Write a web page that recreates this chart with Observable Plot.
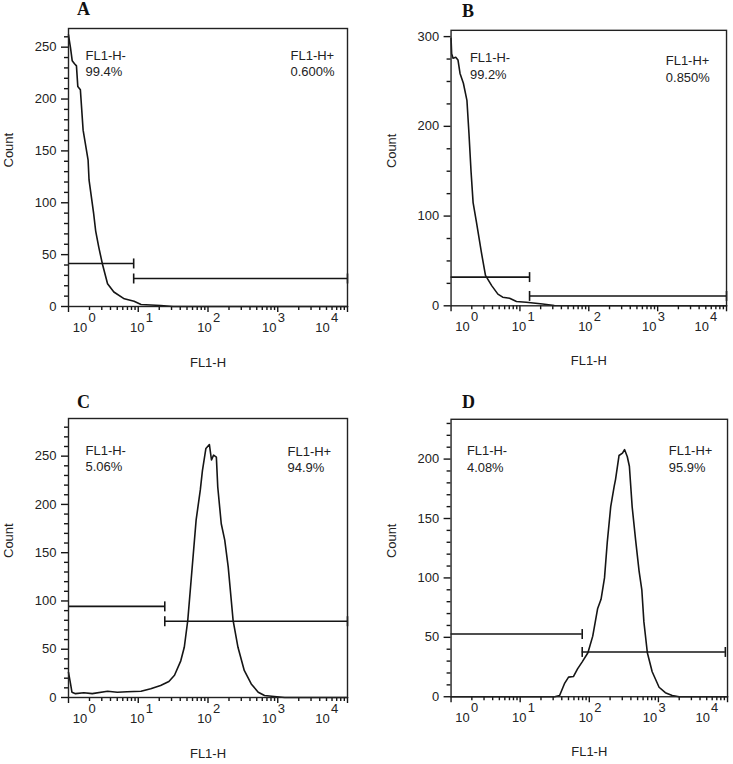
<!DOCTYPE html>
<html><head><meta charset="utf-8">
<script src="https://cdn.jsdelivr.net/npm/d3@7"></script>
<script src="https://cdn.jsdelivr.net/npm/@observablehq/plot@0.6"></script>
<style>
body{margin:0;background:#fff;}
#page{position:relative;width:733px;height:764px;overflow:hidden;background:#fff;}
.panel{position:absolute;}
.letter{position:absolute;font-family:"Liberation Serif","Times New Roman",serif;font-weight:bold;font-size:18px;line-height:18px;color:#111;}
</style></head>
<body><div id="page"></div>
<script>
// ---------- data ----------
const panelLetters = ["A", "B", "C", "D"];
const negLabel = "FL1-H-";
const posLabel = "FL1-H+";
const negPercent = ["99.4%", "99.2%", "5.06%", "4.08%"];
const posPercent = ["0.600%", "0.850%", "94.9%", "95.9%"];
const xLabel = "FL1-H";
const yLabel = "Count";
const xTickExponents = [0, 1, 2, 3, 4];
const xDomain = [1, 10000];
const yMax = [268, 307, 289, 233.5];
const yMajorStep = [50, 100, 50, 50];
const yMinorStep = [10, 25, 10, 10];

// gates (FL1-H split value, count level of the bars, right end)
const gateSplit = [8.6, 13.8, 24, 79];
const gateNegCount = [41.5, 32, 94.4, 52.8];
const gatePosCount = [27, 11, 79, 37.7];
const gateEnd = [10000, 10000, 10000, 9300];

// histograms
const fl1A = [1, 1.03, 1.07, 1.13, 1.22, 1.30, 1.36, 1.48, 1.62, 1.91, 1.97, 2.29, 2.45, 2.72, 3.05, 3.63, 4.47, 6.31, 8.71, 10.96, 20.9, 31.6, 10000];
const countA = [262, 256, 249, 237, 234, 232, 212, 209, 170, 141, 122, 90, 73, 57, 41.5, 22, 14, 7.4, 5, 2, 1, 0, 0];

const fl1B = [1, 1.02, 1.07, 1.17, 1.26, 1.35, 1.51, 1.70, 1.82, 1.95, 2.09, 2.34, 2.75, 3.16, 3.89, 4.79, 5.62, 7.08, 8.91, 12.3, 21.4, 31.6, 10000];
const countB = [298, 281, 276, 277, 274, 259, 248, 229, 192, 150, 115, 93, 60, 34, 22.5, 13, 9.6, 8.5, 4.8, 4, 2, 0.4, 0];

const fl1C = [1, 1.07, 1.12, 1.26, 1.66, 2.19, 3.63, 5.01, 6.92, 10.96, 15.1, 20.9, 27.5, 33.1, 40.7, 45.7, 51.3, 57.5, 67.6, 77.6, 83.2, 93.3, 104.7, 112.2, 120.2, 131.8, 138.0, 154.9, 173.8, 195.0, 229, 269, 331, 417, 525, 646, 891, 1259, 10000];
const countC = [26, 14, 5.5, 4, 5, 4, 6.5, 5.5, 6, 6.5, 9, 12.5, 16.6, 23, 38, 52, 80, 123, 184, 215, 235, 258, 262, 246, 251, 249, 218, 180, 163, 135, 80, 52, 28, 14, 5.5, 2, 1, 0, 0];

const fl1D = [1, 31.6, 37.2, 43.7, 50.1, 58.9, 67.6, 79.4, 95.5, 112.2, 131.8, 147.9, 166.0, 182.0, 204.2, 229.1, 239.9, 269.2, 302.0, 323.6, 354.8, 380.2, 416.9, 467.7, 524.8, 575.4, 616.6, 691.8, 812.8, 1023, 1259, 1585, 1995, 10000];
const countD = [0, 0, 1, 11, 16.5, 17, 23.5, 29.6, 37, 51, 74, 82, 100, 130, 160, 177, 183, 203, 205, 208, 202, 194, 160, 132, 106, 90, 63, 37, 21, 8, 3.4, 1, 0, 0];

const fl1 = [fl1A, fl1B, fl1C, fl1D];
const counts = [countA, countB, countC, countD];

// ---------- layout (pixels) ----------
const layout = [
  {left: 0,   top: 0,   width: 365, height: 380, mt: 28, mr: 18, mb: 74, ml: 68, lx: 77,  ly: 0,   negDx: 17, negDy: 19, posDx: -57, posDy: 19},
  {left: 370, top: 0,   width: 365, height: 380, mt: 30, mr: 7,  mb: 73, ml: 81, lx: 462, ly: 1.5, negDx: 19, negDy: 20, posDx: -61, posDy: 23},
  {left: 0,   top: 380, width: 365, height: 384, mt: 38, mr: 18, mb: 67, ml: 68, lx: 77,  ly: 393, negDx: 17, negDy: 24, posDx: -60, posDy: 25},
  {left: 370, top: 380, width: 365, height: 384, mt: 39, mr: 6,  mb: 66, ml: 81, lx: 462, ly: 393, negDx: 16, negDy: 24, posDx: -59, posDy: 24}
];
const labelShift = [11.5, -1, -3.5, -8.5, -25];
const ink = "#151515";
const textInk = "#222";
const font = "'Liberation Sans', Arial, Helvetica, sans-serif";

const page = document.getElementById("page");

function range(step, max) { const out = []; for (let v = 0; v <= max + 1e-9; v += step) out.push(v); return out; }

panelLetters.forEach((letter, i) => {
  const L = layout[i];
  const data = fl1[i].map((x, k) => ({x, count: counts[i][k]}));
  const majorY = range(yMajorStep[i], yMax[i]);
  const minorY = range(yMinorStep[i], yMax[i]).filter(v => !majorY.includes(v));
  const majorX = xTickExponents.map(e => 10 ** e);
  const minorX = [];
  for (let e = 0; e < 4; e++) for (let m = 2; m <= 9; m++) minorX.push(m * 10 ** e);

  const gates = [
    {x1: xDomain[0], x2: gateSplit[i], y: gateNegCount[i]},
    {x1: gateSplit[i], x2: gateEnd[i], y: gatePosCount[i]}
  ];
  const caps = [
    {x: gateSplit[i], y: gateNegCount[i]},
    {x: gateSplit[i], y: gatePosCount[i]},
    {x: gateEnd[i], y: gatePosCount[i]}
  ];

  const marks = [
    Plot.axisY({ticks: majorY, tickSize: 7, tickPadding: 5, fontSize: 13, label: null, stroke: ink, strokeWidth: 1.4, fill: textInk}),
    Plot.axisY({ticks: minorY, tickSize: 4, tickPadding: 0, tickFormat: () => "", fontSize: 1, label: null, stroke: ink, strokeWidth: 1.4}),
    Plot.axisX({ticks: majorX, tickSize: 6, tickPadding: 0, tickFormat: () => "", fontSize: 1, label: null, stroke: ink, strokeWidth: 1.4}),
    Plot.axisX({ticks: minorX, tickSize: 4, tickPadding: 0, tickFormat: () => "", fontSize: 1, label: null, stroke: ink, strokeWidth: 1.4}),
    ...xTickExponents.map((e, j) => Plot.text([e], {x: d => 10 ** d, frameAnchor: "bottom", text: () => "10", dx: labelShift[j], dy: 25.5, fontSize: 13, fill: textInk})),
    ...xTickExponents.map((e, j) => Plot.text([e], {x: d => 10 ** d, frameAnchor: "bottom", text: d => String(d), textAnchor: "start", dx: labelShift[j] + 8.5, dy: 15, fontSize: 13, fill: textInk})),
    Plot.text([xLabel], {frameAnchor: "bottom", text: d => d, dy: 60, fontSize: 13, fill: textInk}),
    Plot.text([yLabel], {frameAnchor: "left", text: d => d, rotate: -90, dx: -60, fontSize: 13, fill: textInk}),
    Plot.text([`${negLabel}\n${negPercent[i]}`], {frameAnchor: "top-left", text: d => d, textAnchor: "start", lineAnchor: "top", lineHeight: 1.3, dx: L.negDx, dy: L.negDy, fontSize: 13, fill: textInk}),
    Plot.text([`${posLabel}\n${posPercent[i]}`], {frameAnchor: "top-right", text: d => d, textAnchor: "start", lineAnchor: "top", lineHeight: 1.3, dx: L.posDx, dy: L.posDy, fontSize: 13, fill: textInk}),
    Plot.line(data, {x: "x", y: "count", stroke: ink, strokeWidth: 1.6}),
    Plot.ruleY(gates, {x1: "x1", x2: "x2", y: "y", stroke: ink, strokeWidth: 1.6}),
    Plot.dot(caps, {x: "x", y: "y", r: 5, symbol: {draw(ctx, size) { const r = Math.sqrt(size / Math.PI); ctx.moveTo(0, -r); ctx.lineTo(0, r); }}, stroke: ink, strokeWidth: 1.6, fill: "none"}),
    Plot.frame({stroke: "#222", strokeWidth: 1.4})
  ];

  const chart = Plot.plot({
    width: L.width, height: L.height,
    marginTop: L.mt, marginRight: L.mr, marginBottom: L.mb, marginLeft: L.ml,
    x: {type: "log", domain: xDomain},
    y: {domain: [0, yMax[i]]},
    style: {fontFamily: font, fontSize: "13px", color: textInk, background: "transparent", overflow: "visible"},
    marks
  });
  const wrap = document.createElement("div");
  wrap.className = "panel";
  wrap.style.left = L.left + "px";
  wrap.style.top = L.top + "px";
  wrap.appendChild(chart);
  page.appendChild(wrap);

  const lt = document.createElement("div");
  lt.className = "letter";
  lt.style.left = L.lx + "px";
  lt.style.top = L.ly + "px";
  lt.textContent = letter;
  page.appendChild(lt);
});
</script>
</body></html>
